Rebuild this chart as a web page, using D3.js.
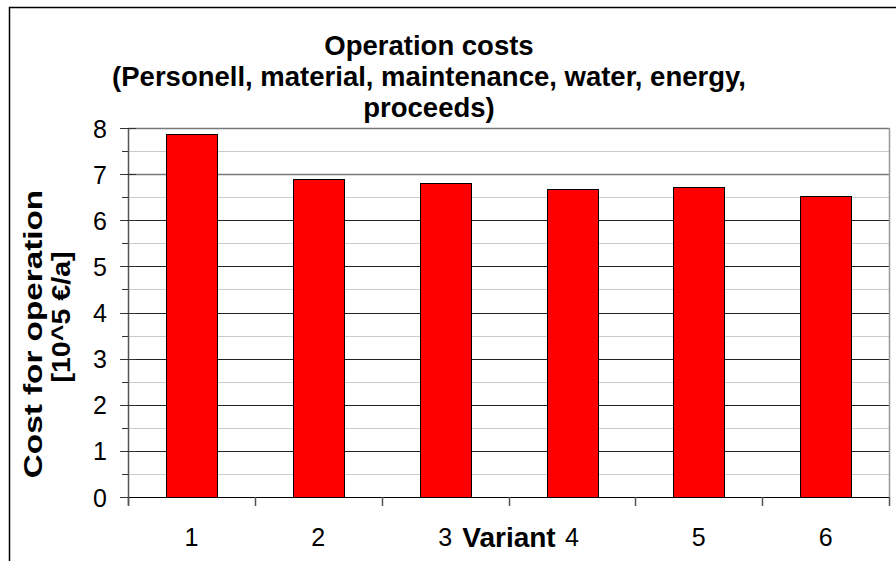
<!DOCTYPE html>
<html>
<head>
<meta charset="utf-8">
<script src="https://cdn.jsdelivr.net/npm/d3@7"></script>
<style>
    body { margin: 0; background: #fff; }
    text { font-family: "Liberation Sans", Arial, sans-serif; fill: #000; }
</style>
</head>
<body>
<div id="divchart"></div>
<script>
// chart data
var variants = ['1', '2', '3', '4', '5', '6'];
var costs = [7.88, 6.90, 6.80, 6.68, 6.72, 6.52];
var yTicks = [0, 1, 2, 3, 4, 5, 6, 7, 8];
var yMinorTicks = [0.5, 1.5, 2.5, 3.5, 4.5, 5.5, 6.5, 7.5];
var titleLines = ['Operation costs', '(Personell, material, maintenance, water, energy,', 'proceeds)'];
var yTitleLines = ['Cost for operation', '[10^5 \u20ac/a]'];
var xTitle = 'Variant';

var svg = d3.select('#divchart')
    .append('svg')
    .attr('width', 896)
    .attr('height', 561);

// outer frame (cut off at right and bottom)
svg.append('rect')
    .attr('x', 9.5)
    .attr('y', 7.5)
    .attr('width', 910)
    .attr('height', 600)
    .attr('fill', 'white')
    .attr('stroke', '#000')
    .attr('stroke-width', 1.5);

var margin = {top: 128, right: 7, bottom: 64, left: 128};
var width = 896 - margin.left - margin.right;
var height = 561 - margin.top - margin.bottom;

var g = svg.append('g')
    .attr('transform', 'translate(' + margin.left + ',' + margin.top + ')');

var x = d3.scaleBand()
    .domain(variants)
    .range([0, width])
    .paddingInner(0.6)
    .paddingOuter(0.3);

var y = d3.scaleLinear()
    .domain([0, 8])
    .range([height, 0]);

// minor gridlines
g.selectAll('.minor')
    .data(yMinorTicks)
    .enter()
    .append('line')
    .attr('class', 'minor')
    .attr('x1', 0)
    .attr('x2', width)
    .attr('y1', function (d) { return Math.round(y(d)) + 0.5; })
    .attr('y2', function (d) { return Math.round(y(d)) + 0.5; })
    .attr('stroke', '#cccccc')
    .attr('stroke-width', 1);

// major gridlines
g.selectAll('.major')
    .data(yTicks.slice(1))
    .enter()
    .append('line')
    .attr('class', 'major')
    .attr('x1', 0)
    .attr('x2', width)
    .attr('y1', function (d) { return Math.round(y(d)) + 0.5; })
    .attr('y2', function (d) { return Math.round(y(d)) + 0.5; })
    .attr('stroke', function (d) { return d >= 7 ? '#777' : '#222'; })
    .attr('stroke-width', function (d) { return d >= 7 ? 1.6 : 1; });

// right border of plot
g.append('line')
    .attr('x1', width + 0.5)
    .attr('x2', width + 0.5)
    .attr('y1', y(8))
    .attr('y2', height)
    .attr('stroke', '#999')
    .attr('stroke-width', 1.5);

// bars
g.selectAll('rect.bar')
    .data(costs)
    .enter()
    .append('rect')
    .attr('class', 'bar')
    .attr('x', function (d, i) { return Math.round(x(variants[i])) + 0.5; })
    .attr('y', function (d) { return Math.round(y(d)) + 0.5; })
    .attr('width', Math.round(x.bandwidth()))
    .attr('height', function (d) { return Math.round(height - y(d)); })
    .attr('fill', '#ff0000')
    .attr('stroke', '#000')
    .attr('stroke-width', 1);

// y axis
var yAxis = d3.axisLeft(y)
    .tickValues(yTicks)
    .tickSize(0)
    .tickPadding(21);

var yg = g.append('g')
    .call(yAxis);
yg.select('.domain').remove();
yg.selectAll('text')
    .style('font-size', '25px')
    .attr('dy', '0.36em');

g.append('line')
    .attr('x1', 0.5)
    .attr('x2', 0.5)
    .attr('y1', 0)
    .attr('y2', height + 8)
    .attr('stroke', '#555')
    .attr('stroke-width', 1.5);

g.selectAll('.ytick')
    .data(yTicks)
    .enter()
    .append('line')
    .attr('class', 'ytick')
    .attr('x1', -8)
    .attr('x2', 8)
    .attr('y1', function (d) { return Math.round(y(d)) + 0.5; })
    .attr('y2', function (d) { return Math.round(y(d)) + 0.5; })
    .attr('stroke', '#333');

g.selectAll('.yminortick')
    .data(yMinorTicks)
    .enter()
    .append('line')
    .attr('class', 'yminortick')
    .attr('x1', -6)
    .attr('x2', 0)
    .attr('y1', function (d) { return Math.round(y(d)) + 0.5; })
    .attr('y2', function (d) { return Math.round(y(d)) + 0.5; })
    .attr('stroke', '#333');

// x axis
g.append('line')
    .attr('x1', 0)
    .attr('x2', width)
    .attr('y1', Math.round(height) + 0.5)
    .attr('y2', Math.round(height) + 0.5)
    .attr('stroke', '#000');

var boundaries = variants.map(function (v) { return x(v) - x.step() * 0.3; }).concat([width]);
g.selectAll('.xtick')
    .data(boundaries)
    .enter()
    .append('line')
    .attr('class', 'xtick')
    .attr('x1', function (d) { return Math.round(d) + 0.5; })
    .attr('x2', function (d) { return Math.round(d) + 0.5; })
    .attr('y1', height)
    .attr('y2', height + 9)
    .attr('stroke', '#555')
    .attr('stroke-width', 1.5);

g.selectAll('.xlabel')
    .data(variants)
    .enter()
    .append('text')
    .attr('class', 'xlabel')
    .attr('x', function (d) { return x(d) + x.bandwidth() / 2; })
    .attr('y', height + 49)
    .attr('text-anchor', 'middle')
    .style('font-size', '25px')
    .text(function (d) { return d; });

// x title
svg.append('text')
    .attr('x', 509)
    .attr('y', 547)
    .attr('text-anchor', 'middle')
    .style('font-size', '28px')
    .style('font-weight', 'bold')
    .text(xTitle);

// chart title
svg.selectAll('.title')
    .data(titleLines)
    .enter()
    .append('text')
    .attr('class', 'title')
    .attr('x', 429)
    .attr('y', function (d, i) { return 55 + i * 31; })
    .attr('text-anchor', 'middle')
    .style('font-size', '27.5px')
    .style('font-weight', 'bold')
    .text(function (d) { return d; });

// y title (text runs a bit stretched along its length in the original)
var yTitlePos = [[42, 334], [70, 317]];
var yTitleStretch = [1.28, 1.1];
svg.selectAll('.ytitle')
    .data(yTitleLines)
    .enter()
    .append('text')
    .attr('class', 'ytitle')
    .attr('transform', function (d, i) {
        return 'translate(' + yTitlePos[i][0] + ',' + yTitlePos[i][1] + ') rotate(-90) scale(' + yTitleStretch[i] + ',1)';
    })
    .attr('text-anchor', 'middle')
    .style('font-size', '26px')
    .style('font-weight', 'bold')
    .text(function (d) { return d; });
</script>
</body>
</html>
